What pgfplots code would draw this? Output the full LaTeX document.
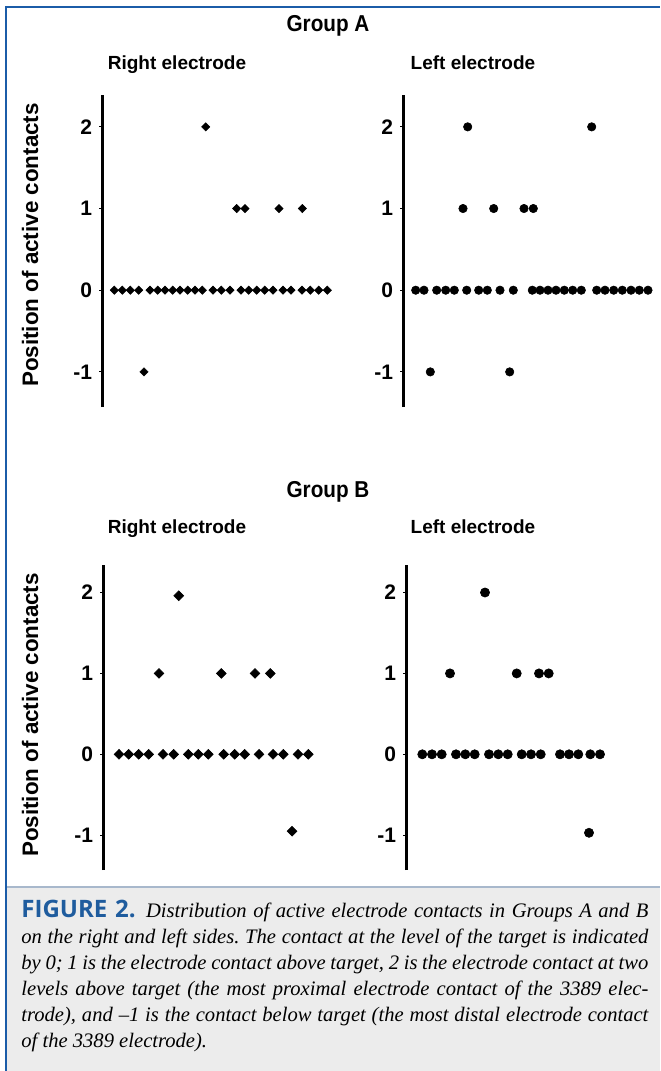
\documentclass[border=0pt]{standalone}
\usepackage{pgfplots}
\pgfplotsset{compat=1.18}
\usepackage{fontspec}
\setmainfont{Liberation Sans}
\newfontfamily\capfont{Liberation Serif}[Ligatures=TeX]
\newfontfamily\figfont{Open Sans}

\definecolor{frameblue}{HTML}{1B5CA8}
\definecolor{capgray}{HTML}{ECECEC}
\definecolor{capline}{HTML}{A8B8CC}
\definecolor{figblue}{HTML}{1F5C9E}

% one picture pixel = 0.5pt
\pgfplotsset{
  panel/.style={
    scale only axis, anchor=south west,
    hide x axis, axis y line*=left,
    axis line style={line width=1.5pt},
    xmin=0, ymin=-1.43,
    ytick={-1,0,1,2}, yticklabels={-1,0,1,2},
    tick align=outside, major tick length=1.5pt,
    tick style={line width=0.4pt, black},
    yticklabel style={font=\fontsize{10.5}{12}\selectfont\bfseries},
    clip=false,
  },
  dia/.style={only marks, mark=diamond*, mark size=#1,
    mark options={xscale=1.33, fill=black, draw=black, line width=0.3pt}},
  dot/.style={only marks, mark=*, mark size=#1,
    mark options={fill=black, draw=black, line width=0.3pt}},
}
\newcommand\jl[1]{\hbox to 313.5pt{#1}}

\begin{document}
\begin{tikzpicture}
% frame and caption box
\path[use as bounding box] (0,0) rectangle (330pt,-535.5pt);
\fill[capgray] (3.5pt,-444pt) rectangle (330pt,-535.5pt);
\draw[capline, line width=0.8pt] (3.5pt,-443.5pt) -- (330pt,-443.5pt);
\draw[frameblue, line width=1.3pt] (3pt,-535.5pt) -- (3pt,-3.5pt) -- (330pt,-3.5pt);

% titles
\tikzset{grp/.style={anchor=base, font=\fontsize{11.5}{13}\selectfont\bfseries},
         sub/.style={anchor=base, font=\fontsize{9.5}{11}\selectfont\bfseries},
         ylab/.style={rotate=90, font=\fontsize{11.2}{13}\selectfont\bfseries}}
\node[grp] at (164pt,-15.5pt) {\scalebox{0.9}[1]{Group A}};
\node[sub] at (88.5pt,-34.5pt) {Right electrode};
\node[sub] at (236.5pt,-34.5pt) {Left electrode};
\node[grp] at (164pt,-248.5pt) {\scalebox{0.9}[1]{Group B}};
\node[sub] at (88.5pt,-266.5pt) {Right electrode};
\node[sub] at (236.5pt,-266.5pt) {Left electrode};
\node[ylab] at (15pt,-122.5pt) {Position of active contacts};
\node[ylab] at (15pt,-357.5pt) {Position of active contacts};

% Group A, right electrode
\begin{axis}[panel, at={(51pt,-203.5pt)}, width=116.5pt, height=156pt,
  xmax=233, ymax=2.39]
\addplot[dia=2.05pt] coordinates {
(12.3,0) (20.3,0) (28.3,0) (36.7,0) (48,0) (55.7,0) (63,0) (70.7,0)
(78,0) (85.7,0) (93,0) (100.3,0) (111,0) (119.3,0) (128,0) (139,0)
(146.7,0) (154.7,0) (162.7,0) (171,0) (181,0) (189,0) (200,0) (208.3,0)
(216.7,0) (225.3,0)
(134.7,1) (143,1) (177,1) (200.3,1)
(103.7,2)
(42,-1)};
\end{axis}

% Group A, left electrode
\begin{axis}[panel, at={(201.5pt,-203.5pt)}, width=126pt, height=156pt,
  xmax=252, ymax=2.39]
\addplot[dot=2.1pt] coordinates {
(12.7,0) (21,0) (33.7,0) (42.7,0) (51.3,0) (63.7,0) (75.7,0) (84.3,0)
(97,0) (110.3,0) (129.3,0) (137,0) (145,0) (153,0) (161.3,0) (169.7,0)
(178.3,0) (193.7,0) (202,0) (210.7,0) (219.3,0) (228,0) (236.3,0) (245,0)
(60,1) (90.7,1) (121,1) (130.3,1)
(64.7,2) (188.7,2)
(27.3,-1) (106.7,-1)};
\end{axis}

% Group B, right electrode
\begin{axis}[panel, at={(51.5pt,-435pt)}, width=116pt, height=152.5pt,
  xmax=232, ymax=2.34]
\addplot[dia=2.45pt] coordinates {
(16,0) (25.7,0) (35.7,0) (45.7,0) (60,0) (70.7,0) (85.3,0) (95.3,0)
(105.3,0) (120.7,0) (131.7,0) (141.7,0) (156,0) (170,0) (180.3,0)
(195,0) (205.3,0)
(56,1) (118.3,1) (152,1) (167.3,1)
(75.7,1.96)
(189,-0.95)};
\end{axis}

% Group B, left electrode
\begin{axis}[panel, at={(203pt,-435pt)}, width=124.5pt, height=152.5pt,
  xmax=249, ymax=2.34]
\addplot[dot=2.3pt] coordinates {
(16.3,0) (26,0) (35.7,0) (50,0) (59.3,0) (68.7,0) (83,0) (92.3,0)
(101.7,0) (115.7,0) (125,0) (134.7,0) (154,0) (163,0) (172.3,0)
(184.3,0) (194,0)
(44,1) (110.7,1) (133,1) (142.7,1)
(79,2)
(183,-0.97)};
\end{axis}

% caption
\node[anchor=north west, inner sep=0pt] at (10.5pt,-450pt) {\vbox{%
  \frenchspacing
  \baselineskip=13pt
  \fontsize{10.3}{13}\selectfont
  \jl{{\figfont\bfseries\fontsize{12}{13}\selectfont\color{figblue}FIGURE 2.}\enspace{\capfont\itshape Distribution of active electrode contacts in Groups A and B}}
  \jl{\capfont\itshape on the right and left sides. The contact at the level of the target is indicated}
  \jl{\capfont\itshape by 0; 1 is the electrode contact above target, 2 is the electrode contact at two}
  \jl{\capfont\itshape levels above target (the most proximal electrode contact of the 3389 elec-}
  \jl{\capfont\itshape trode), and –1 is the contact below target (the most distal electrode contact}
  \hbox{\capfont\itshape of the 3389 electrode).}}};
\end{tikzpicture}
\end{document}
